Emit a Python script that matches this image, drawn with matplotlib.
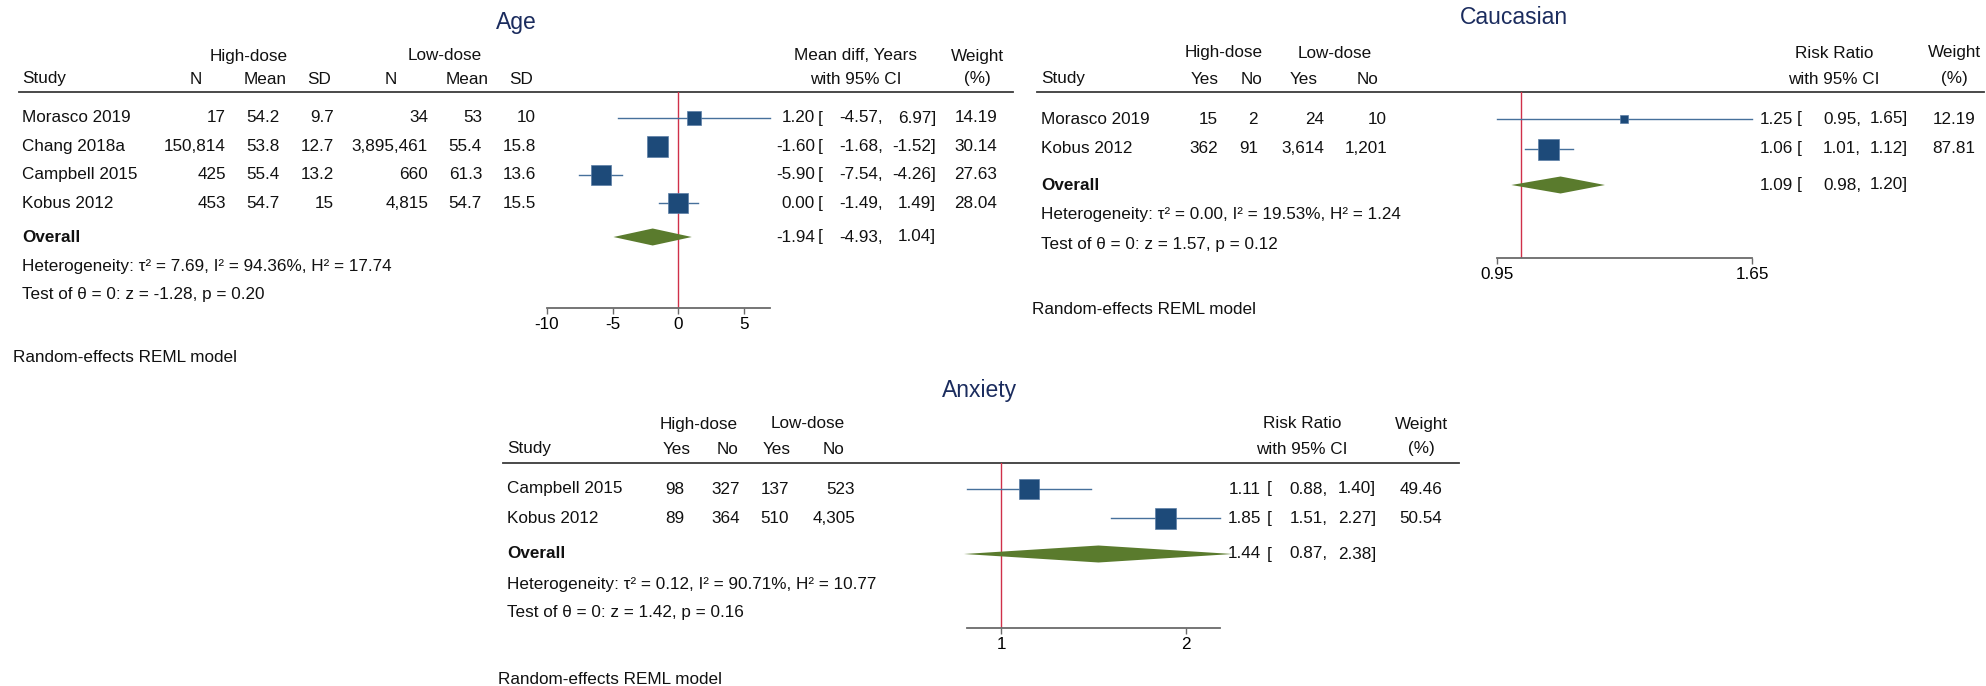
import numpy as np
import matplotlib
matplotlib.use("Agg")
import matplotlib.pyplot as plt
from matplotlib.ticker import NullLocator

plt.rcParams["font.family"] = ["Liberation Sans", "DejaVu Sans"]

W, H, DPI = 1986, 686, 100
FS = 12.3
TITLE_FS = 16.5
NAVY = "#1b2c5e"
BOX = "#1d4a79"
BOX_EDGE = "#5b7ea6"
CI_COLOR = "#46709b"
DIAMOND = "#5a7b2d"
NULL_COLOR = "#d03049"
RULE = "#3a3a3a"
AXIS = "#6a6a6a"

# ---- Age (mean difference, years) ----
age_studies = ["Morasco 2019", "Chang 2018a", "Campbell 2015", "Kobus 2012"]
age_hi_n = [17, 150814, 425, 453]
age_hi_mean = [54.2, 53.8, 55.4, 54.7]
age_hi_sd = [9.7, 12.7, 13.2, 15]
age_lo_n = [34, 3895461, 660, 4815]
age_lo_mean = [53, 55.4, 61.3, 54.7]
age_lo_sd = [10, 15.8, 13.6, 15.5]
age_es = [1.20, -1.60, -5.90, 0.00]
age_ci_lo = [-4.57, -1.68, -7.54, -1.49]
age_ci_hi = [6.97, -1.52, -4.26, 1.49]
age_weight = [14.19, 30.14, 27.63, 28.04]
age_overall = [-1.94, -4.93, 1.04]
age_het = [7.69, 94.36, 17.74]
age_test = [-1.28, 0.20]
age_ticks = [-10, -5, 0, 5]

# ---- Caucasian (risk ratio) ----
cau_studies = ["Morasco 2019", "Kobus 2012"]
cau_hi_yes = [15, 362]
cau_hi_no = [2, 91]
cau_lo_yes = [24, 3614]
cau_lo_no = [10, 1201]
cau_es = [1.25, 1.06]
cau_ci_lo = [0.95, 1.01]
cau_ci_hi = [1.65, 1.12]
cau_weight = [12.19, 87.81]
cau_overall = [1.09, 0.98, 1.20]
cau_het = [0.00, 19.53, 1.24]
cau_test = [1.57, 0.12]
cau_ticks = [0.95, 1.65]

# ---- Anxiety (risk ratio) ----
anx_studies = ["Campbell 2015", "Kobus 2012"]
anx_hi_yes = [98, 89]
anx_hi_no = [327, 364]
anx_lo_yes = [137, 510]
anx_lo_no = [523, 4305]
anx_es = [1.11, 1.85]
anx_ci_lo = [0.88, 1.51]
anx_ci_hi = [1.40, 2.27]
anx_weight = [49.46, 50.54]
anx_overall = [1.44, 0.87, 2.38]
anx_het = [0.12, 90.71, 10.77]
anx_test = [1.42, 0.16]
anx_ticks = [1, 2]


def fmt(v):
    return f"{v:,}" if isinstance(v, int) else f"{v:g}"


def txt(bg, x, y, s, ha="left", **kw):
    kw.setdefault("fontsize", FS)
    kw.setdefault("color", "#111111")
    bg.text(x, y, s, ha=ha, va="center", **kw)


def draw_panel(fig, bg, lay, title, groups, col_heads, es_head, studies, cols,
               es, lo, hi, weight, overall, het, test, ticks, log):
    # table part (pixel coordinates on the background axes)
    txt(bg, lay["title_x"], lay["title_y"], title, ha="center",
        fontsize=TITLE_FS, color=NAVY)
    for label, gx in zip(groups, lay["group_x"]):
        txt(bg, gx, lay["group_y"], label, ha="center")
    txt(bg, lay["study_x"], lay["head_y"], "Study")
    for label, hx in zip(col_heads, lay["head_x"]):
        txt(bg, hx, lay["head_y"], label, ha="center")
    txt(bg, lay["es_head_x"], lay["group_y"], es_head, ha="center")
    txt(bg, lay["es_head_x"], lay["head_y"], "with 95% CI", ha="center")
    txt(bg, lay["w_head_x"], lay["group_y"], "Weight", ha="center")
    txt(bg, lay["w_head_x"], lay["head_y"], "(%)", ha="center")
    bg.plot(lay["rule_x"], [lay["rule_y"]] * 2, color=RULE, lw=1.3)

    rows = [lay["row0"] + i * lay["step"] for i in range(len(studies))]
    for i, y in enumerate(rows):
        txt(bg, lay["study_x"], y, studies[i])
        for col, cx in zip(cols, lay["col_right"]):
            txt(bg, cx, y, fmt(col[i]), ha="right")
        txt(bg, lay["es_right"], y, f"{es[i]:.2f}", ha="right")
        txt(bg, lay["bracket_x"], y, "[")
        txt(bg, lay["lo_right"], y, f"{lo[i]:.2f},", ha="right")
        txt(bg, lay["hi_right"], y, f"{hi[i]:.2f}]", ha="right")
        txt(bg, lay["w_right"], y, f"{weight[i]:.2f}", ha="right")

    yo = lay["overall_y"]
    txt(bg, lay["study_x"], yo, "Overall", fontweight="bold")
    txt(bg, lay["es_right"], yo, f"{overall[0]:.2f}", ha="right")
    txt(bg, lay["bracket_x"], yo, "[")
    txt(bg, lay["lo_right"], yo, f"{overall[1]:.2f},", ha="right")
    txt(bg, lay["hi_right"], yo, f"{overall[2]:.2f}]", ha="right")
    txt(bg, lay["study_x"], lay["het_y"],
        f"Heterogeneity: \u03c4\u00b2 = {het[0]:.2f}, I\u00b2 = {het[1]:.2f}%, "
        f"H\u00b2 = {het[2]:.2f}")
    txt(bg, lay["study_x"], lay["test_y"],
        f"Test of \u03b8 = 0: z = {test[0]:.2f}, p = {test[1]:.2f}")
    txt(bg, lay["foot_x"], lay["foot_y"], "Random-effects REML model")

    # forest part
    x0, x1 = lay["plot_px"]
    ya, yr = lay["axis_y"], lay["rule_y"]
    ax = fig.add_axes([x0 / W, 1 - ya / H, (x1 - x0) / W, (ya - yr) / H])
    if log:
        ax.set_xscale("log")
    ax.set_xlim(*lay["plot_range"])
    ax.set_ylim(ya, yr)
    ax.patch.set_visible(False)
    for side in ("top", "left", "right"):
        ax.spines[side].set_visible(False)
    ax.spines["bottom"].set_color(AXIS)
    ax.spines["bottom"].set_linewidth(1.3)
    ax.set_yticks([])
    ax.set_xticks(ticks)
    ax.set_xticklabels([fmt(t) for t in ticks], fontsize=FS)
    ax.xaxis.set_minor_locator(NullLocator())
    ax.tick_params(axis="x", length=4, width=1.0, color=AXIS, pad=2.5)
    ax.axvline(1 if log else 0, color=NULL_COLOR, lw=1.0)

    wmax = max(weight)
    for i, y in enumerate(rows):
        ax.plot([lo[i], hi[i]], [y, y], color=CI_COLOR, lw=1.0, clip_on=False)
        side_px = max(8.0, 21.0 * np.sqrt(weight[i] / wmax))
        ax.plot([es[i]], [y], marker="s", ms=side_px * 0.72, mfc=BOX,
                mec=BOX_EDGE, mew=0.5, clip_on=False, zorder=3)
    dh = 8.5
    ax.fill([overall[1], overall[0], overall[2], overall[0]],
            [yo, yo - dh, yo, yo + dh], color=DIAMOND, lw=0, clip_on=False,
            zorder=3)


age_layout = dict(
    title_x=516, title_y=23, group_y=56, head_y=79, rule_y=92,
    rule_x=[19, 1013], study_x=22, foot_x=13,
    group_x=[249, 445], head_x=[196, 265, 319, 391, 467, 521],
    col_right=[226, 280, 334, 428, 482, 536],
    row0=118, step=28.4, overall_y=237, het_y=267, test_y=294,
    axis_y=308, foot_y=357,
    plot_px=[547, 769.5], plot_range=[-10, 6.97],
    es_right=815, bracket_x=818, lo_right=883, hi_right=936,
    w_right=997, es_head_x=856, w_head_x=977,
)

cau_layout = dict(
    title_x=1514, title_y=17, group_y=53, head_y=79, rule_y=92,
    rule_x=[1037, 1984], study_x=1041, foot_x=1032,
    group_x=[1224, 1335], head_x=[1205, 1252, 1304, 1367],
    col_right=[1218, 1258, 1324, 1387],
    row0=119, step=29.7, overall_y=185, het_y=214, test_y=245,
    axis_y=258, foot_y=310,
    plot_px=[1497, 1752], plot_range=[0.95, 1.65],
    es_right=1793, bracket_x=1797, lo_right=1861, hi_right=1908,
    w_right=1975, es_head_x=1834, w_head_x=1954,
)

anx_layout = dict(
    title_x=980, title_y=390, group_y=424, head_y=449, rule_y=463,
    rule_x=[503, 1459], study_x=507, foot_x=498,
    group_x=[699, 808], head_x=[677, 727, 777, 834],
    col_right=[684, 740, 789, 855],
    row0=489, step=29.3, overall_y=554, het_y=584, test_y=613,
    axis_y=628, foot_y=680,
    plot_px=[967, 1220], plot_range=[0.88, 2.27],
    es_right=1261, bracket_x=1267, lo_right=1328, hi_right=1376,
    w_right=1442, es_head_x=1302, w_head_x=1421,
)

fig = plt.figure(figsize=(W / DPI, H / DPI), dpi=DPI)
bg = fig.add_axes([0, 0, 1, 1])
bg.set_xlim(0, W)
bg.set_ylim(H, 0)
bg.axis("off")

draw_panel(fig, bg, age_layout, "Age", ["High-dose", "Low-dose"],
           ["N", "Mean", "SD", "N", "Mean", "SD"], "Mean diff, Years",
           age_studies,
           [age_hi_n, age_hi_mean, age_hi_sd, age_lo_n, age_lo_mean, age_lo_sd],
           age_es, age_ci_lo, age_ci_hi, age_weight, age_overall,
           age_het, age_test, age_ticks, log=False)

draw_panel(fig, bg, cau_layout, "Caucasian", ["High-dose", "Low-dose"],
           ["Yes", "No", "Yes", "No"], "Risk Ratio", cau_studies,
           [cau_hi_yes, cau_hi_no, cau_lo_yes, cau_lo_no],
           cau_es, cau_ci_lo, cau_ci_hi, cau_weight, cau_overall,
           cau_het, cau_test, cau_ticks, log=True)

draw_panel(fig, bg, anx_layout, "Anxiety", ["High-dose", "Low-dose"],
           ["Yes", "No", "Yes", "No"], "Risk Ratio", anx_studies,
           [anx_hi_yes, anx_hi_no, anx_lo_yes, anx_lo_no],
           anx_es, anx_ci_lo, anx_ci_hi, anx_weight, anx_overall,
           anx_het, anx_test, anx_ticks, log=True)

fig.savefig("out.png", dpi=DPI)
